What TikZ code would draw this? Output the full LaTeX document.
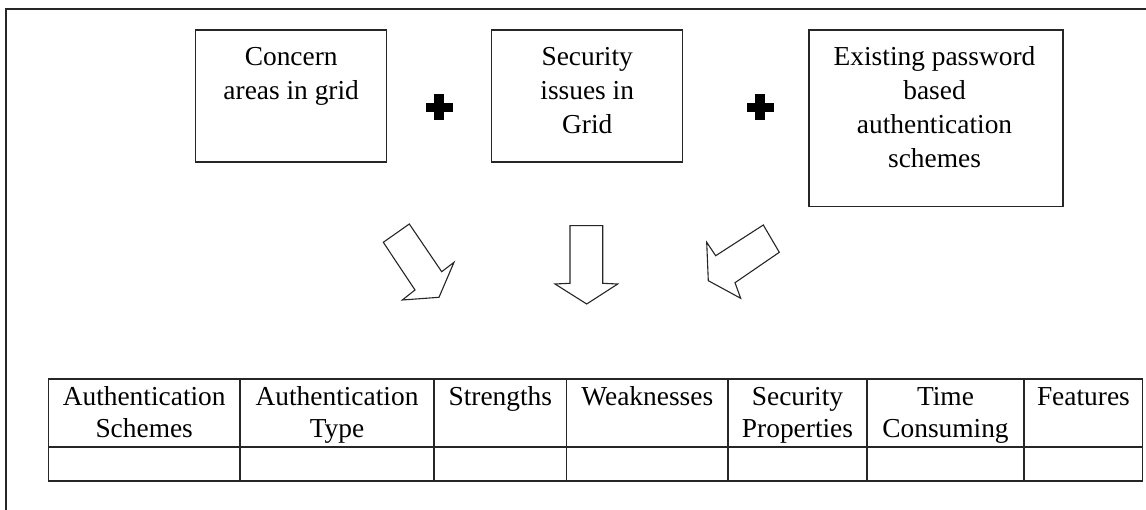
\documentclass[tikz,border=0pt]{standalone}
\usepackage{fontspec}
\setmainfont{Liberation Serif}
\begin{document}
\begin{tikzpicture}[x=1pt,y=-1pt,
  frame/.style={line width=1.3pt, draw=black!85},
  topbox/.style={draw=black!85, line width=1.4pt, inner sep=0pt},
  boxtext/.style={anchor=north, align=center, inner sep=0pt,
    font=\fontsize{27.4}{34}\selectfont},
  celltext/.style={anchor=north, align=center, inner sep=0pt,
    font=\fontsize{27.4}{31.5}\selectfont},
  plus/.style={fill=black, draw=none},
  blockarrow/.style={draw=black!85, fill=white, line width=1.1pt, line join=miter},
  grid line/.style={draw=black!85, line width=1.3pt},
  head line/.style={draw=black!85, line width=2.2pt}
]
\useasboundingbox (0,0) rectangle (1146,510);

% outer frame (top and left edges only)
\coordinate (fl) at (6,510);
\coordinate (ftl) at (6,9);
\coordinate (ftr) at (1146,9);
\draw[frame] (fl) -- (ftl) -- (ftr);

% input boxes
\node[topbox, minimum width=191, minimum height=132] (concern) at (291.2,96) {};
\node[boxtext] (concernT) at (291.2,41.7) {\strut Concern\\areas in grid};

\node[topbox, minimum width=191, minimum height=132] (security) at (587.2,96) {};
\node[boxtext] (securityT) at (587.2,41.7) {\strut Security\\issues in\\Grid};

\node[topbox, minimum width=254, minimum height=176.7] (existing) at (936,118.3) {};
\node[boxtext] (existingT) at (934.5,41.7) {\strut Existing password\\based\\authentication\\schemes};

% plus signs between the boxes
\foreach \cx/\nm in {439.3/plusA, 760/plusB}{
  \coordinate (\nm) at (\cx,107.5);
  \fill[plus] ([shift={(-13.5,-4.5)}]\nm) rectangle ([shift={(13.5,4.5)}]\nm);
  \fill[plus] ([shift={(-5,-13)}]\nm) rectangle ([shift={(5,13)}]\nm);
}

% hollow block arrows pointing at the table
\draw[blockarrow] (383.3,242.3) -- (409.3,224) -- (441.7,271.7) -- (454,262.3)
  -- (439,297.3) -- (402.3,300) -- (415,290) -- cycle;
\draw[blockarrow] (570,225.7) -- (602.7,225.7) -- (602.7,283.3) -- (617.7,284)
  -- (586.7,304) -- (555,284) -- (570,283.3) -- cycle;
\draw[blockarrow] (763.3,225) -- (779.3,252.3) -- (735,282.7) -- (740.7,298.3)
  -- (708.3,280.7) -- (706.7,242.3) -- (715.7,255.7) -- cycle;

% comparison table
\def\ttop{379}\def\tmid{447}\def\tbot{481}
\foreach \xx in {240,434,566.5,728,867,1024}{
  \draw[grid line] (\xx,\ttop) -- (\xx,\tbot);
}
\draw[grid line] (48.3,\ttop) -- (1142.7,\ttop);
\draw[head line] (48.3,\tmid) -- (1142.7,\tmid);
\draw[head line] (48.3,\tbot) -- (1142.7,\tbot);
\draw[grid line] (48.3,\ttop) -- (48.3,\tbot);
\draw[grid line] (1142.7,\ttop) -- (1142.7,\tbot);

\node[celltext] (h1) at (144.2,383.4) {\strut Authentication\\Schemes};
\node[celltext] (h2) at (337,383.4) {\strut Authentication\\Type};
\node[celltext] (h3) at (500.3,383.4) {\strut Strengths};
\node[celltext] (h4) at (647.3,383.4) {\strut Weaknesses};
\node[celltext] (h5) at (797.5,383.4) {\strut Security\\Properties};
\node[celltext] (h6) at (945.5,383.4) {\strut Time\\Consuming};
\node[celltext] (h7) at (1083.4,383.4) {\strut Features};
\end{tikzpicture}
\end{document}
